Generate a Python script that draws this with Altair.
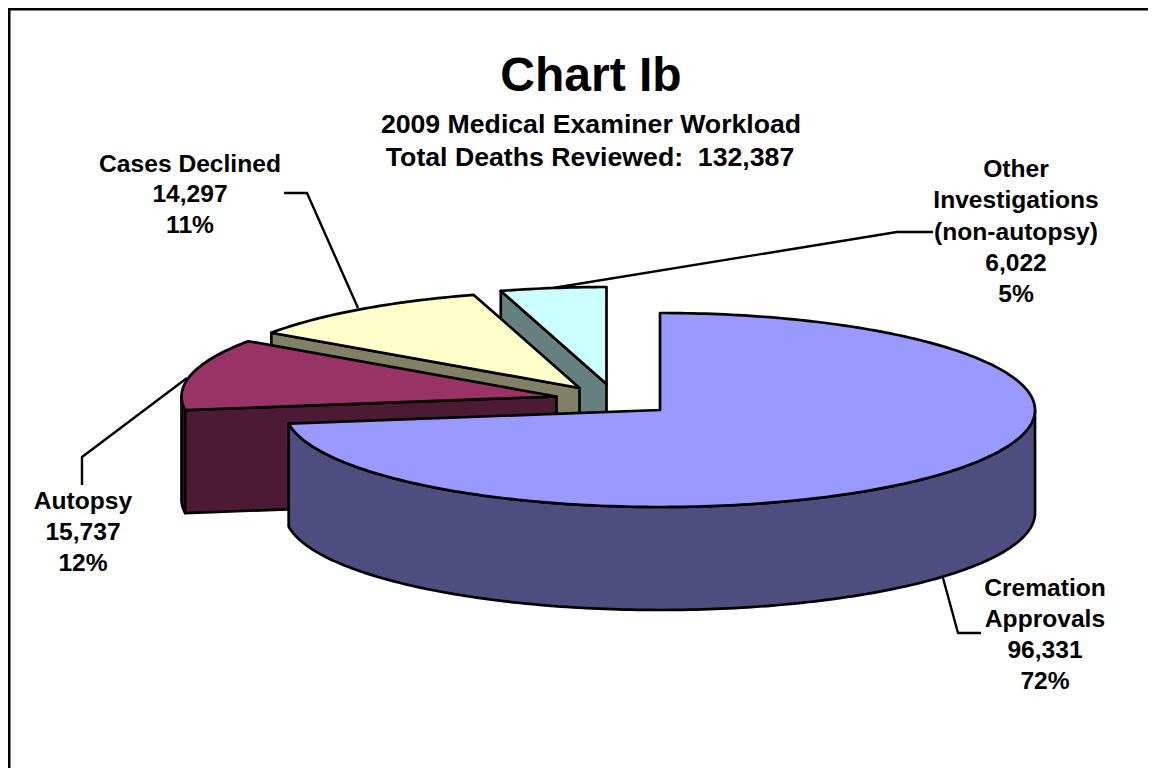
import math
import altair as alt
import pandas as pd

# Data
names = ["Cremation Approvals", "Autopsy", "Cases Declined", "Other Investigations (non-autopsy)"]
values = [96331, 15737, 14297, 6022]
top_colors = ["#9999FF", "#993366", "#FFFFCC", "#CCFFFF"]
wall_colors = ["#4D4D80", "#4D1A33", "#808066", "#668080"]
# Page offset: the page adds an 8px margin
M = 8
# Exploded apex of each slice, ellipse radii and depth (styling of the pseudo-3D view)
apexes = [(660, 410), (556.5, 396.5), (579.5, 388), (606.5, 384)]
RX, RY, DEPTH = 375, 97, 103

text_x = [591, 591, 590, 190, 190, 190, 1016, 1016, 1016, 1016, 1016, 83, 83, 83, 1045, 1045, 1045, 1045]
text_y = [76.5, 124.5, 157.5, 164.5, 194.5, 225.5, 169.5, 200.5, 232.5, 263.5, 294.5,
          502, 533, 564, 588.5, 619.5, 650.5, 681.5]
text_s = ["Chart Ib", "2009 Medical Examiner Workload", "Total Deaths Reviewed:\u00a0\u00a0132,387",
          "Cases Declined", "14,297", "11%",
          "Other", "Investigations", "(non-autopsy)", "6,022", "5%",
          "Autopsy", "15,737", "12%",
          "Cremation", "Approvals", "96,331", "72%"]
text_size = [48, 26.67, 26.67] + [24.6] * 15

leaders = [
    [(943, 578), (958, 633), (981, 633)],
    [(284, 193), (307, 193), (358, 308)],
    [(187, 378), (82, 457), (82, 485)],
    [(553, 288), (897, 232), (933, 232)],
]
frame = [(M + 1, 773), (M + 1, M + 1), (1148, M + 1)]

total = sum(values)
edges = [0.0]
for v in values:
    edges.append(edges[-1] + v / total * 360)


def rim(apex, deg):
    a = math.radians(deg)
    return (apex[0] + RX * math.sin(a), apex[1] - RY * math.cos(a))


def arc(apex, a0, a1, dy=0):
    n = max(2, int(abs(a1 - a0)) + 2)
    pts = []
    for i in range(n + 1):
        x, y = rim(apex, a0 + (a1 - a0) * i / n)
        pts.append((x, y + dy))
    return pts


def shift(pts):
    return [[round(x - M, 2), round(y - M, 2)] for x, y in pts]


def poly(pts, fill):
    ring = shift(pts + [pts[0]])
    return {"type": "Feature", "properties": {"fill": fill},
            "geometry": {"type": "Polygon", "coordinates": [ring]}}


def line(pts):
    return {"type": "Feature", "properties": {"fill": "none"},
            "geometry": {"type": "LineString", "coordinates": shift(pts)}}


features = []
# Back to front: Other, Cases, Autopsy, Cremation
for i in [3, 2, 1, 0]:
    a0, a1 = edges[i], edges[i + 1]
    ap = apexes[i]
    if i == 0:
        # outer wall of the front half
        features.append(poly(arc(ap, 90, a1) + arc(ap, a1, 90, DEPTH), wall_colors[i]))
    else:
        if i == 1:
            features.append(poly(arc(ap, a0, 270) + arc(ap, 270, a0, DEPTH), wall_colors[i]))
        # cut face toward the viewer
        s = rim(ap, a0)
        features.append(poly([ap, s, (s[0], s[1] + DEPTH), (ap[0], ap[1] + DEPTH)], wall_colors[i]))
    features.append(poly([ap] + arc(ap, a0, a1), top_colors[i]))

lines = [line(l) for l in leaders]

proj = alt.Projection(type="identity", scale=1, translate=[0, 0])


def geo(feats, width):
    return (
        alt.Chart(alt.InlineData(values={"type": "FeatureCollection", "features": feats},
                                 format=alt.DataFormat(property="features", type="json")))
        .mark_geoshape(stroke="black", strokeWidth=width, strokeJoin="round", clip=False)
        .encode(fill=alt.Fill("properties.fill:N", scale=None))
        .project(**proj.to_dict())
    )


labels = pd.DataFrame({"x": [x - M for x in text_x], "y": [y - M for y in text_y],
                       "t": text_s, "s": text_size})
text = (
    alt.Chart(labels)
    .mark_text(font="Liberation Sans", fontWeight="bold", color="black", align="center", baseline="middle")
    .encode(
        x=alt.X("x:Q", scale=None, axis=None),
        y=alt.Y("y:Q", scale=None, axis=None),
        text="t:N",
        size=alt.Size("s:Q", scale=None, legend=None),
    )
)

chart = (
    alt.layer(geo(lines, 2.4), geo(features, 2.7), geo([line(frame)], 3), text)
    .properties(width=1140, height=760, padding=0, autosize=alt.AutoSizeParams(type="none"),
                background="white")
    .configure_view(stroke=None)
)
chart.save("out.html", embed_options={"renderer": "svg", "actions": False})
